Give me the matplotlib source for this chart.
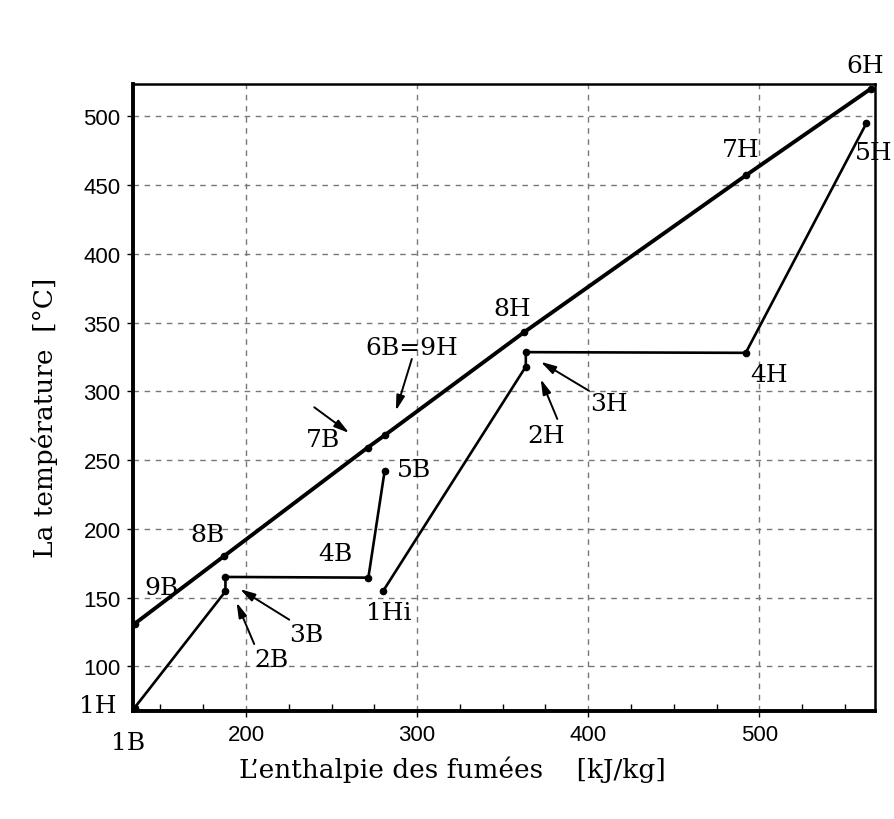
import matplotlib.pyplot as plt
from matplotlib.ticker import MultipleLocator

# fumes line (upper), water/steam B and H cycles (lower)
fumes_x = [135, 187, 271, 281, 362.5, 492, 565]
fumes_y = [131, 180, 259, 268, 343, 457, 520]
cycleB_x = [135, 188, 188, 271.5, 281]
cycleB_y = [70, 154.5, 165, 164.5, 242]
cycleH_x = [280, 363.5, 363.5, 492, 562.5]
cycleH_y = [154.5, 318, 328.5, 328, 495]

# plain labels: text, x, y (data units)
labels = [
    ("1H", 113.4, 71.3), ("1B", 130.9, 44.7), ("9B", 150.4, 157.5),
    ("8B", 177.6, 196.2), ("4B", 252.5, 181.7), ("5B", 298.2, 243.5),
    ("1Hi", 283.7, 139.3), ("8H", 355.5, 360.4), ("4H", 505.4, 312.6),
    ("7H", 489, 476.2), ("6H", 561.9, 536.8), ("5H", 566.5, 473.8),
]
# labels with arrows: text, text x, text y, arrow tail, arrow head
arrow_labels = [
    ("2B", 214.6, 105.3, (204.8, 116.2), (194.5, 146.5)),
    ("3B", 235.0, 123.5, (225.3, 133.9), (196.5, 156.2)),
    ("7B", 245.1, 265.3, (239.9, 288.4), (260.3, 269.7)),
    ("6B=9H", 297.1, 332.0, (296.9, 323.5), (287.6, 285.9)),
    ("2H", 375.1, 267.7, (381.9, 279.9), (372.2, 308.9)),
    ("3H", 412.1, 290.8, (400.4, 300.4), (372.2, 321.5)),
]

serif = 'DejaVu Serif'

fig = plt.figure(figsize=(8.94, 8.2), dpi=100)
ax = fig.add_axes([0.1488, 0.1317, 0.8299, 0.7646])

ax.plot(fumes_x, fumes_y, color='black', lw=2.8, marker='o', ms=4.5)
ax.plot(cycleB_x, cycleB_y, color='black', lw=1.9, marker='o', ms=4.5)
ax.plot(cycleH_x, cycleH_y, color='black', lw=1.9, marker='o', ms=4.5)

ax.set_xlim(134, 567.5)
ax.set_ylim(67.5, 523.5)
ax.set_xticks([200, 300, 400, 500])
ax.set_yticks([100, 150, 200, 250, 300, 350, 400, 450, 500])
ax.xaxis.set_minor_locator(MultipleLocator(25))
ax.tick_params(axis='both', which='major', direction='out', length=4, width=1,
               labelsize=16, pad=5)
ax.tick_params(axis='x', which='minor', direction='in', length=5, width=1)
for lab in ax.get_xticklabels() + ax.get_yticklabels():
    lab.set_family('Liberation Sans')

ax.grid(True, which='major', color='#777777', linestyle=(0, (4, 4)), lw=1)

for side in ['left', 'bottom']:
    ax.spines[side].set_linewidth(2.8)
for side in ['top', 'right']:
    ax.spines[side].set_linewidth(1.8)

for txt, x, y in labels:
    ax.text(x, y, txt, ha='center', va='center', fontsize=18, family=serif,
            clip_on=False)

for txt, x, y, tail, head in arrow_labels:
    ax.text(x, y, txt, ha='center', va='center', fontsize=18, family=serif)
    ax.annotate('', xy=head, xytext=tail,
                arrowprops=dict(arrowstyle='-|>,head_length=0.9,head_width=0.25',
                                color='black', lw=1.4, shrinkA=0, shrinkB=0))

fig.text(0.506, 0.061, "L\u2019enthalpie des fumées    [kJ/kg]", ha='center',
         va='center', fontsize=19, family=serif)
fig.text(0.05, 0.491, "La température  [°C]", ha='center', va='center',
         rotation=90, fontsize=19, family=serif)

plt.savefig('out.png', dpi=100)
